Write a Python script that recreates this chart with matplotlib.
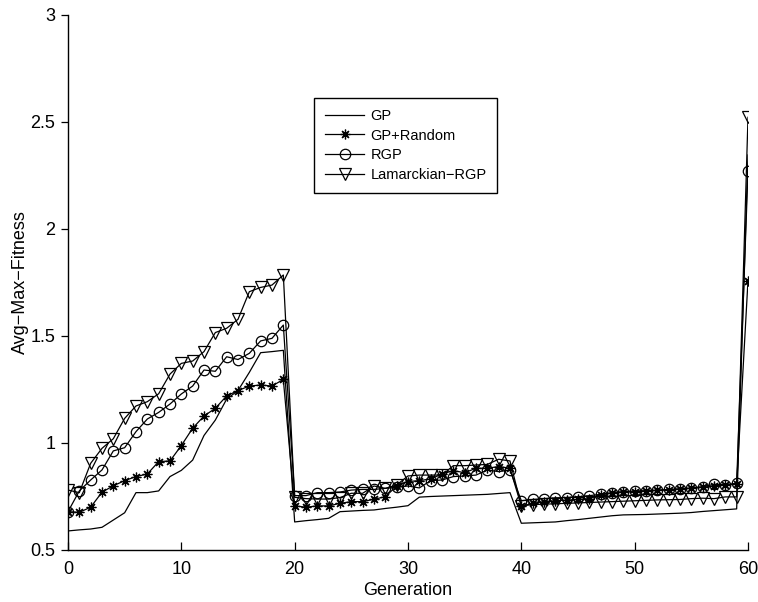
import numpy as np
import matplotlib
matplotlib.use("Agg")
from matplotlib import pyplot as plt

plt.rcParams['font.family'] = ['Liberation Sans', 'DejaVu Sans']
plt.rcParams['font.size'] = 13

# --- data ---
generation = np.arange(0, 61)

gp = [0.589, 0.594, 0.598, 0.606, 0.640, 0.674, 0.768, 0.768, 0.776, 0.843,
      0.872, 0.920, 1.035, 1.107, 1.205, 1.245, 1.330, 1.422, 1.427, 1.433,
      0.631, 0.637, 0.642, 0.648, 0.679, 0.682, 0.685, 0.687, 0.694, 0.700,
      0.707, 0.747, 0.750, 0.752, 0.754, 0.756, 0.758, 0.760, 0.764, 0.768,
      0.625, 0.627, 0.629, 0.631, 0.637, 0.642, 0.648, 0.654, 0.660, 0.664,
      0.665, 0.666, 0.668, 0.670, 0.672, 0.675, 0.680, 0.684, 0.688, 0.692,
      2.346]

gp_random = [0.679, 0.676, 0.700, 0.770, 0.800, 0.824, 0.843, 0.855, 0.913, 0.916,
             0.988, 1.069, 1.126, 1.162, 1.220, 1.245, 1.266, 1.271, 1.266, 1.297,
             0.706, 0.700, 0.706, 0.706, 0.718, 0.726, 0.726, 0.737, 0.749, 0.799,
             0.820, 0.824, 0.832, 0.855, 0.871, 0.861, 0.882, 0.882, 0.890, 0.882,
             0.705, 0.718, 0.726, 0.730, 0.733, 0.736, 0.740, 0.757, 0.766, 0.770,
             0.773, 0.775, 0.778, 0.781, 0.784, 0.788, 0.793, 0.800, 0.803, 0.808,
             1.759]

rgp = [0.679, 0.776, 0.827, 0.874, 0.963, 0.978, 1.053, 1.112, 1.143, 1.182,
       1.229, 1.266, 1.341, 1.335, 1.403, 1.390, 1.419, 1.477, 1.489, 1.551,
       0.754, 0.754, 0.768, 0.768, 0.771, 0.780, 0.783, 0.783, 0.788, 0.793,
       0.799, 0.790, 0.824, 0.827, 0.843, 0.846, 0.850, 0.874, 0.866, 0.874,
       0.730, 0.736, 0.740, 0.744, 0.745, 0.749, 0.754, 0.760, 0.768, 0.773,
       0.776, 0.777, 0.780, 0.783, 0.786, 0.790, 0.796, 0.807, 0.805, 0.812,
       2.273]

lamarck_rgp = [0.780, 0.768, 0.905, 0.975, 1.020, 1.115, 1.173, 1.193, 1.230, 1.322,
               1.372, 1.383, 1.427, 1.516, 1.536, 1.578, 1.707, 1.727, 1.738, 1.785,
               0.746, 0.740, 0.738, 0.738, 0.745, 0.765, 0.765, 0.799, 0.788, 0.804,
               0.846, 0.850, 0.850, 0.850, 0.894, 0.894, 0.897, 0.900, 0.924, 0.916,
               0.706, 0.712, 0.714, 0.716, 0.718, 0.720, 0.722, 0.724, 0.726, 0.728,
               0.730, 0.732, 0.734, 0.735, 0.736, 0.740, 0.742, 0.740, 0.748, 0.748,
               2.522]

labels = ["GP", "GP+Random", "RGP", "Lamarckian\u2212RGP"]

# -----------------------------------------------------------#
#                    Figure
# -----------------------------------------------------------#
fig = plt.figure(figsize=(7.58, 6.02), dpi=100)
ax = fig.add_axes([0.0897, 0.0864, 0.8971, 0.8887])

ax.plot(generation, gp, '-', color='black', linewidth=0.9, label=labels[0])
ax.plot(generation, gp_random, '-', color='black', linewidth=0.9,
        marker=(8, 2, 0), markersize=7, markeredgewidth=0.9, label=labels[1])
ax.plot(generation, rgp, '-', color='black', linewidth=0.9,
        marker='o', markersize=7.5, markerfacecolor='none', markeredgewidth=0.9, label=labels[2])
ax.plot(generation, lamarck_rgp, '-', color='black', linewidth=0.9,
        marker='v', markersize=8, markerfacecolor='none', markeredgewidth=0.9, label=labels[3])

ax.set_xlim(0, 60)
ax.set_ylim(0.5, 3)
ax.set_xticks(np.arange(0, 61, 10))
ax.set_yticks([0.5, 1, 1.5, 2, 2.5, 3])
ax.set_yticklabels(["0.5", "1", "1.5", "2", "2.5", "3"])

ax.spines['top'].set_visible(False)
ax.spines['right'].set_visible(False)
ax.spines['left'].set_linewidth(1)
ax.spines['bottom'].set_linewidth(1)
ax.tick_params(axis='x', direction='in', length=6, width=0.9, pad=8)
ax.tick_params(axis='y', direction='out', length=5, width=0.9, pad=4)

ax.set_xlabel("Generation", labelpad=3)
ax.set_ylabel("Avg\u2212Max\u2212Fitness", labelpad=1)

leg = ax.legend(loc='lower left', bbox_to_anchor=(0.362, 0.667), fancybox=False,
                edgecolor='black', framealpha=1, handlelength=2.7, fontsize=10.5,
                borderpad=0.75, labelspacing=0.4, handletextpad=0.4, borderaxespad=0)
leg.get_frame().set_linewidth(1)

fig.savefig("out.png", dpi=100)
